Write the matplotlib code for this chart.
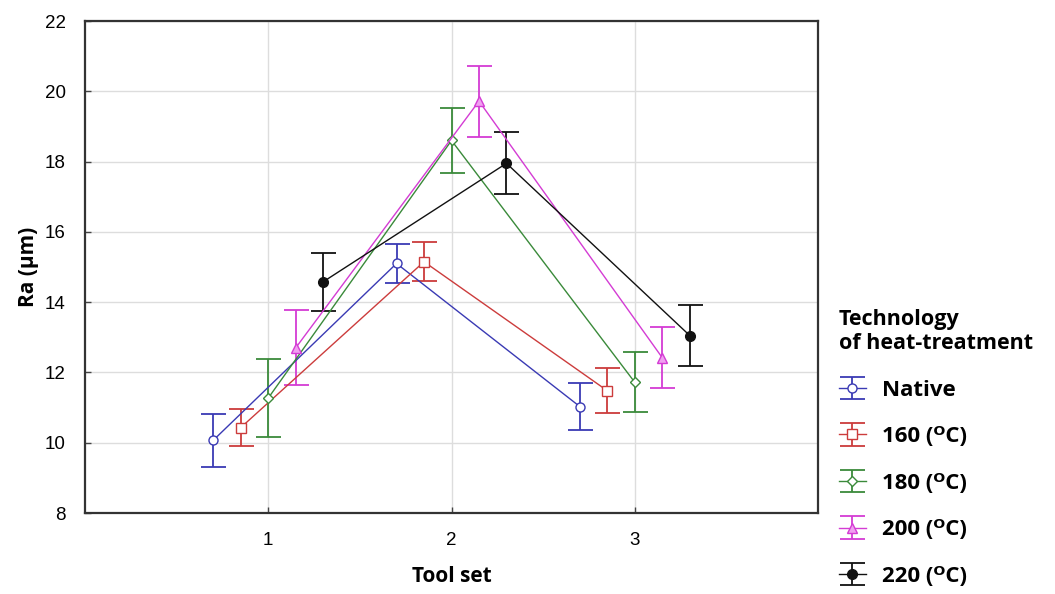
import matplotlib.pyplot as plt
import numpy as np

# Data
tool_sets = [1, 2, 3]
groups = ["Native", "160 (ᴼC)", "180 (ᴼC)", "200 (ᴼC)", "220 (ᴼC)"]
ra_native = [10.07, 15.10, 11.03]
ra_160 = [10.43, 15.15, 11.48]
ra_180 = [11.27, 18.60, 11.72]
ra_200 = [12.70, 19.72, 12.42]
ra_220 = [14.58, 17.95, 13.05]
err_native = [0.75, 0.55, 0.66]
err_160 = [0.53, 0.56, 0.64]
err_180 = [1.10, 0.93, 0.85]
err_200 = [1.07, 1.01, 0.87]
err_220 = [0.82, 0.88, 0.88]
offsets = [-0.3, -0.15, 0.0, 0.15, 0.3]

means = [ra_native, ra_160, ra_180, ra_200, ra_220]
errs = [err_native, err_160, err_180, err_200, err_220]
colors = ["#3a3ab4", "#cc3c3c", "#3a8a3a", "#d43cd4", "#111111"]
markers = ["o", "s", "D", "^", "o"]
faces = ["white", "white", "white", "#f0a0f0", "#111111"]
msizes = [6.5, 6.5, 5, 7, 7]

fig = plt.figure(figsize=(10.55, 5.94), dpi=100)
ax = fig.add_axes([85 / 1055, 1 - 513 / 594, (818 - 85) / 1055, (513 - 21) / 594])

x = np.array(tool_sets, dtype=float)
for m, e, c, mk, fc, ms, off, lab in zip(means, errs, colors, markers, faces, msizes, offsets, groups):
    ax.errorbar(x + off, m, yerr=e, color=c, marker=mk, mfc=fc, mec=c, ms=ms,
                lw=1.0, elinewidth=1.3, capsize=9, capthick=1.3, label=lab)

ax.set_xlim(0, 4)
ax.set_ylim(8, 22)
ax.set_xticks([1, 2, 3])
ax.set_yticks(range(8, 23, 2))
ax.grid(True, color="#dddddd", lw=1)
ax.set_axisbelow(True)
ax.tick_params(direction="in", length=4, width=1, color="#444444", pad=14,
               labelsize=13.5)
for lbl in ax.get_xticklabels() + ax.get_yticklabels():
    lbl.set_family("Liberation Sans")
for s in ax.spines.values():
    s.set_linewidth(1.6)
    s.set_color("#333333")

ax.set_xlabel("Tool set", fontsize=15, fontweight="bold", family=["Open Sans", "DejaVu Sans"], labelpad=12)
ax.set_ylabel("Ra (µm)", fontsize=15, fontweight="bold", family=["Open Sans", "DejaVu Sans"], labelpad=4)

leg = fig.legend(loc="upper left", bbox_to_anchor=(830 / 1055, 1 - 300 / 594),
                 frameon=False, title="Technology\nof heat-treatment",
                 prop={"family": ["Open Sans", "DejaVu Sans"], "weight": "bold", "size": 16},
                 handlelength=1.2, handletextpad=0.75, labelspacing=1.15,
                 borderaxespad=0, alignment="left")
leg.get_title().set_fontweight("bold")
leg.get_title().set_fontsize(15.5)
leg.get_title().set_family(["Open Sans", "DejaVu Sans"])

fig.savefig("out.png", dpi=100)
